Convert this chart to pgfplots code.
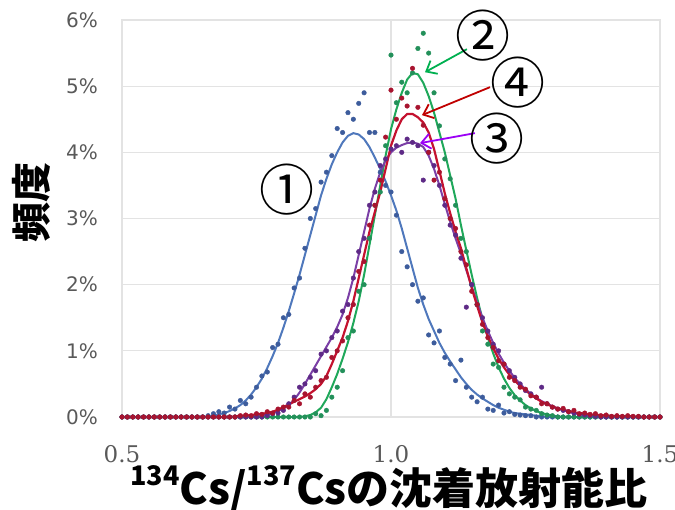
\documentclass[border=0pt]{standalone}
\usepackage{fontspec}
\usepackage{pgfplots}
\pgfplotsset{compat=1.18}
\usepackage{pgfplotstable}
\usetikzlibrary{arrows.meta}
\newfontfamily\cjk{Noto Sans CJK JP}
\newfontfamily\ytfont{DejaVu Sans}
\newfontfamily\xtfont{DejaVu Serif}
\definecolor{bline}{HTML}{4F78BC}
\definecolor{bdot}{HTML}{3D5C9C}
\definecolor{gline}{HTML}{1FA85A}
\definecolor{gdot}{HTML}{23905A}
\definecolor{pline}{HTML}{7B3FA6}
\definecolor{pdot}{HTML}{5E2A86}
\definecolor{rline}{HTML}{C4122F}
\definecolor{rdot}{HTML}{A8142F}
\definecolor{garrow}{HTML}{00B050}
\definecolor{rarrow}{HTML}{C00000}
\definecolor{parrow}{HTML}{9B00F5}
\definecolor{gridc}{HTML}{E3E3E3}
\definecolor{tickc}{HTML}{595959}
\pgfplotstableread{
x bl bd gl gd pl pd rl rd
0.50 0 0 0 0 0 0 0 0
0.51 0 0 0 0 0 0 0 0
0.52 0 0 0 0 0 0 0 0
0.53 0 0 0 0 0 0 0 0
0.54 0 0 0 0 0 0 0 0
0.55 0 0 0 0 0 0 0 0
0.56 0 0 0 0 0 0 0 0
0.57 0 0 0 0 0 0 0 0
0.58 0 0 0 0 0 0 0 0
0.59 0 0 0 0 0 0 0 0
0.60 0 0 0 0 0 0 0 0
0.61 0 0 0 0 0 0 0 0
0.62 0 0 0 0 0 0 0 0
0.63 0 0 0 0 0 0 0 0
0.64 0 0 0 0 0 0 0 0
0.65 0 0 0 0 0 0 0 0
0.66 0 0.02 0 0 0 0 0 0
0.67 0.02 0.05 0 0 0 0 0 0
0.68 0.04 0.08 0 0 0 0 0 0
0.69 0.06 0.06 0 0 0 0 0 0
0.70 0.09 0.15 0 0 0 0 0 0
0.71 0.13 0.12 0 0 0 0 0.01 0
0.72 0.18 0.25 0 0 0 0 0.02 0.02
0.73 0.25 0.20 0 0 0 0 0.02 0.03
0.74 0.34 0.30 0 0 0 0 0.03 0.02
0.75 0.45 0.45 0 0 0.01 0 0.04 0.05
0.76 0.58 0.62 0 0 0.02 0 0.05 0.04
0.77 0.74 0.68 0 0 0.04 0.02 0.06 0.08
0.78 0.92 1.05 0 0 0.06 0.05 0.08 0.06
0.79 1.12 1.10 0 0 0.09 0.06 0.11 0.12
0.80 1.35 1.50 0 0 0.13 0.10 0.15 0.15
0.81 1.60 1.55 0 0 0.18 0.20 0.19 0.15
0.82 1.87 1.95 0 0 0.26 0.30 0.23 0.25
0.83 2.15 2.10 0 0 0.37 0.45 0.27 0.20
0.84 2.45 2.55 0.01 0 0.50 0.50 0.31 0.35
0.85 2.75 3.00 0.03 0 0.64 0.60 0.36 0.30
0.86 3.05 3.15 0.07 0.05 0.78 0.70 0.42 0.45
0.87 3.35 3.55 0.14 0.02 0.92 0.95 0.50 0.55
0.88 3.60 3.70 0.27 0.10 1.06 1.00 0.62 0.60
0.89 3.82 3.95 0.45 0.30 1.20 1.20 0.80 0.90
0.90 4.00 4.36 0.65 0.45 1.36 1.30 1.00 1.00
0.91 4.15 4.30 0.88 0.70 1.55 1.60 1.20 1.15
0.92 4.25 4.60 1.13 1.20 1.80 1.70 1.45 1.50
0.93 4.29 4.50 1.42 1.30 2.10 2.10 1.75 1.70
0.94 4.27 4.74 1.75 1.90 2.45 2.50 2.10 2.20
0.95 4.20 4.90 2.15 2.00 2.80 2.70 2.45 2.35
0.96 4.08 4.30 2.60 2.70 3.15 3.20 2.80 2.90
0.97 3.92 4.30 3.05 3.20 3.45 3.40 3.10 3.20
0.98 3.75 3.70 3.50 3.40 3.70 3.80 3.40 3.58
0.99 3.56 3.50 3.95 4.10 3.88 3.90 3.75 4.23
1.00 3.35 3.40 4.35 5.47 4.00 4.05 4.10 4.94
1.01 3.12 3.05 4.65 4.75 4.07 4.10 4.33 4.50
1.02 2.85 2.50 4.90 5.06 4.11 4.00 4.50 4.82
1.03 2.55 2.27 5.10 4.90 4.14 4.20 4.58 4.70
1.04 2.25 2.00 5.20 5.20 4.15 4.15 4.58 5.27
1.05 1.95 1.75 5.18 5.57 4.13 4.10 4.53 4.68
1.06 1.70 1.80 5.05 5.80 4.08 3.58 4.45 4.41
1.07 1.48 1.24 4.85 5.50 3.95 4.00 4.30 4.00
1.08 1.30 1.12 4.60 4.90 3.75 3.80 4.05 3.58
1.09 1.12 1.30 4.30 4.40 3.50 3.50 3.72 3.70
1.10 0.97 0.90 4.00 3.90 3.22 3.20 3.38 3.30
1.11 0.84 0.80 3.65 3.60 2.95 2.90 3.08 3.00
1.12 0.72 0.55 3.30 3.20 2.70 2.75 2.80 2.85
1.13 0.60 0.86 2.90 2.70 2.47 2.40 2.55 2.50
1.14 0.50 0.45 2.52 2.50 2.22 1.66 2.25 2.30
1.15 0.41 0.30 2.15 2.00 1.97 2.00 1.95 1.90
1.16 0.34 0.23 1.80 1.70 1.73 1.70 1.68 1.70
1.17 0.28 0.30 1.48 1.30 1.50 1.50 1.43 1.40
1.18 0.23 0.12 1.20 1.10 1.30 1.30 1.22 1.20
1.19 0.18 0.10 0.96 0.80 1.12 1.10 1.04 1.05
1.20 0.14 0.18 0.75 0.75 0.96 1.00 0.88 0.85
1.21 0.11 0.06 0.58 0.45 0.82 0.80 0.75 0.80
1.22 0.08 0.08 0.44 0.35 0.70 0.70 0.64 0.60
1.23 0.06 0.04 0.33 0.30 0.59 0.60 0.55 0.55
1.24 0.05 0.03 0.25 0.26 0.50 0.50 0.47 0.45
1.25 0.04 0.02 0.18 0.15 0.42 0.40 0.40 0.42
1.26 0.03 0.02 0.13 0.12 0.35 0.35 0.34 0.32
1.27 0.02 0 0.09 0.10 0.29 0.30 0.28 0.30
1.28 0.01 0 0.06 0.05 0.24 0.45 0.23 0.20
1.29 0 0 0.04 0.03 0.20 0.20 0.19 0.20
1.30 0 0 0.02 0.02 0.16 0.15 0.16 0.15
1.31 0 0 0.01 0 0.13 0.12 0.13 0.12
1.32 0 0 0 0 0.10 0.10 0.11 0.13
1.33 0 0 0 0 0.08 0.08 0.09 0.08
1.34 0 0 0 0 0.06 0.06 0.07 0.10
1.35 0 0 0 0 0.04 0.04 0.06 0.05
1.36 0 0 0 0 0.03 0.03 0.05 0.06
1.37 0 0 0 0 0.02 0.02 0.04 0.04
1.38 0 0 0 0 0.01 0.01 0.03 0.05
1.39 0 0 0 0 0 0 0.03 0.02
1.40 0 0 0 0 0 0 0.02 0.03
1.41 0 0 0 0 0 0 0.02 0.01
1.42 0 0 0 0 0 0 0.01 0.02
1.43 0 0 0 0 0 0 0.01 0.01
1.44 0 0 0 0 0 0 0.01 0.02
1.45 0 0 0 0 0 0 0.01 0.01
1.46 0 0 0 0 0 0 0 0.01
1.47 0 0 0 0 0 0 0 0
1.48 0 0 0 0 0 0 0 0
1.49 0 0 0 0 0 0 0 0
1.50 0 0 0 0 0 0 0 0
}\datatable
\begin{document}
\begin{tikzpicture}[x=1pt,y=1pt]
\useasboundingbox (0,0) rectangle (675,509);
\begin{axis}[
  at={(122pt,92pt)}, anchor=south west,
  scale only axis, width=538pt, height=397pt,
  xmin=0.5, xmax=1.5, ymin=0, ymax=6,
  xtick={0.5,1.0,1.5}, xticklabels={0.5,1.0,1.5},
  ytick={0,1,2,3,4,5,6}, yticklabels={0\%,1\%,2\%,3\%,4\%,5\%,6\%},
  grid=major, grid style={draw=gridc, line width=1.2pt},
  axis line style={draw=gridc, line width=1.2pt},
  major tick length=0pt, tick style={draw=none},
  yticklabel style={font=\ytfont\fontsize{20}{20}\selectfont, text=tickc, inner sep=0pt, xshift=-24pt},
  xticklabel style={font=\xtfont\fontsize{23}{23}\selectfont, text=tickc, inner sep=0pt, yshift=-28pt},
  clip=false,
]
\addplot[bline, line width=2pt, line join=round] table[x=x,y=bl]{\datatable};
\addplot[only marks, color=bdot, mark=*, mark size=2.3pt] table[x=x,y=bd]{\datatable};
\addplot[gline, line width=2pt, line join=round] table[x=x,y=gl]{\datatable};
\addplot[only marks, color=gdot, mark=*, mark size=2.3pt] table[x=x,y=gd]{\datatable};
\addplot[pline, line width=2pt, line join=round] table[x=x,y=pl]{\datatable};
\addplot[only marks, color=pdot, mark=*, mark size=2.3pt] table[x=x,y=pd]{\datatable};
\addplot[rline, line width=2.2pt, line join=round] table[x=x,y=rl]{\datatable};
\addplot[only marks, color=rdot, mark=*, mark size=2.3pt] table[x=x,y=rd]{\datatable};
\draw[garrow, line width=1.8pt, -{Straight Barb[length=9pt,width=15pt]}] (axis cs:1.141,5.559) -- (axis cs:1.0632,5.211);
\draw[rarrow, line width=1.8pt, -{Straight Barb[length=9pt,width=15pt]}] (axis cs:1.184,4.985) -- (axis cs:1.0576,4.562);
\draw[parrow, line width=1.8pt, -{Straight Barb[length=9pt,width=15pt]}] (axis cs:1.156,4.29) -- (axis cs:1.0539,4.139);
\node[font=\cjk\fontsize{55}{55}\selectfont, inner sep=0pt] at (axis cs:0.8067,3.43) {①};
\node[font=\cjk\fontsize{55}{55}\selectfont, inner sep=0pt] at (axis cs:1.171,5.77) {②};
\node[font=\cjk\fontsize{55}{55}\selectfont, inner sep=0pt] at (axis cs:1.236,5.06) {④};
\node[font=\cjk\fontsize{55}{55}\selectfont, inner sep=0pt] at (axis cs:1.197,4.215) {③};
\end{axis}
\node[font=\cjk\bfseries\fontsize{40}{40}\selectfont, rotate=90, inner sep=0pt] at (31,306) {頻度};
\node[font=\cjk\bfseries\fontsize{43}{43}\selectfont, anchor=base, inner sep=0pt] at (389,5) {\raisebox{0.42em}{\fontsize{27}{27}\selectfont 134}Cs/\raisebox{0.42em}{\fontsize{27}{27}\selectfont 137}Csの沈着放射能比};
\end{tikzpicture}
\end{document}
